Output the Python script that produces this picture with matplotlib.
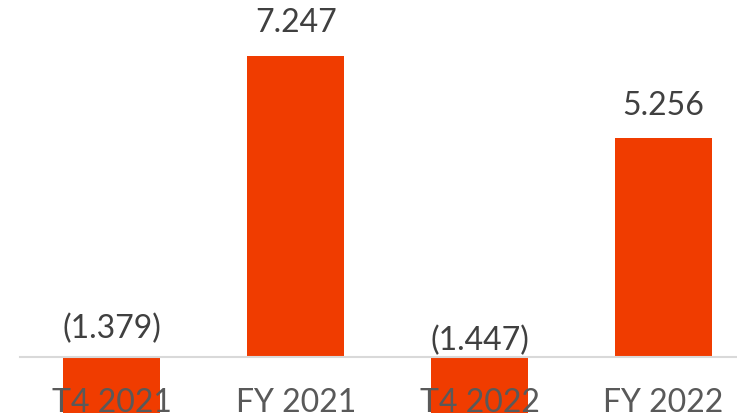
import matplotlib.pyplot as plt

# data
categories = ["T4 2021", "FY 2021", "T4 2022", "FY 2022"]
values = [-1.379, 7.247, -1.447, 5.256]
value_labels = ["(1.379)", "7.247", "(1.447)", "5.256"]

# label offsets above bar top / baseline, in points
label_offsets = [10, 13, 2, 13]

plt.rcParams['font.family'] = ['Lato', 'DejaVu Sans']

fig = plt.figure(figsize=(7.37, 4.14), dpi=100)
ax = fig.add_axes([0, 0, 1, 1])

x = list(range(len(categories)))
ax.bar(x, values, width=0.528, color='#f03c00', zorder=1)

# baseline
ax.axhline(0, xmin=20 / 737, xmax=1, color='#d9d9d9', lw=1.5, zorder=2)

# value labels
for xi, v, lab, off in zip(x, values, value_labels, label_offsets):
    ax.annotate(lab, (xi, max(v, 0)), xytext=(0, off), textcoords='offset points',
                ha='center', va='bottom', fontsize=23, color='#404040')

# category labels, drawn over the bars
for xi, cat in zip(x, categories):
    ax.text(xi, 2 / 414, cat, transform=ax.get_xaxis_transform(),
            ha='center', va='baseline', fontsize=23, color='#595959', zorder=3)

ax.set_xlim(-0.609, 3.40)
ax.set_ylim(-1.332, 8.603)
ax.axis('off')

fig.savefig('out.png', dpi=100)
